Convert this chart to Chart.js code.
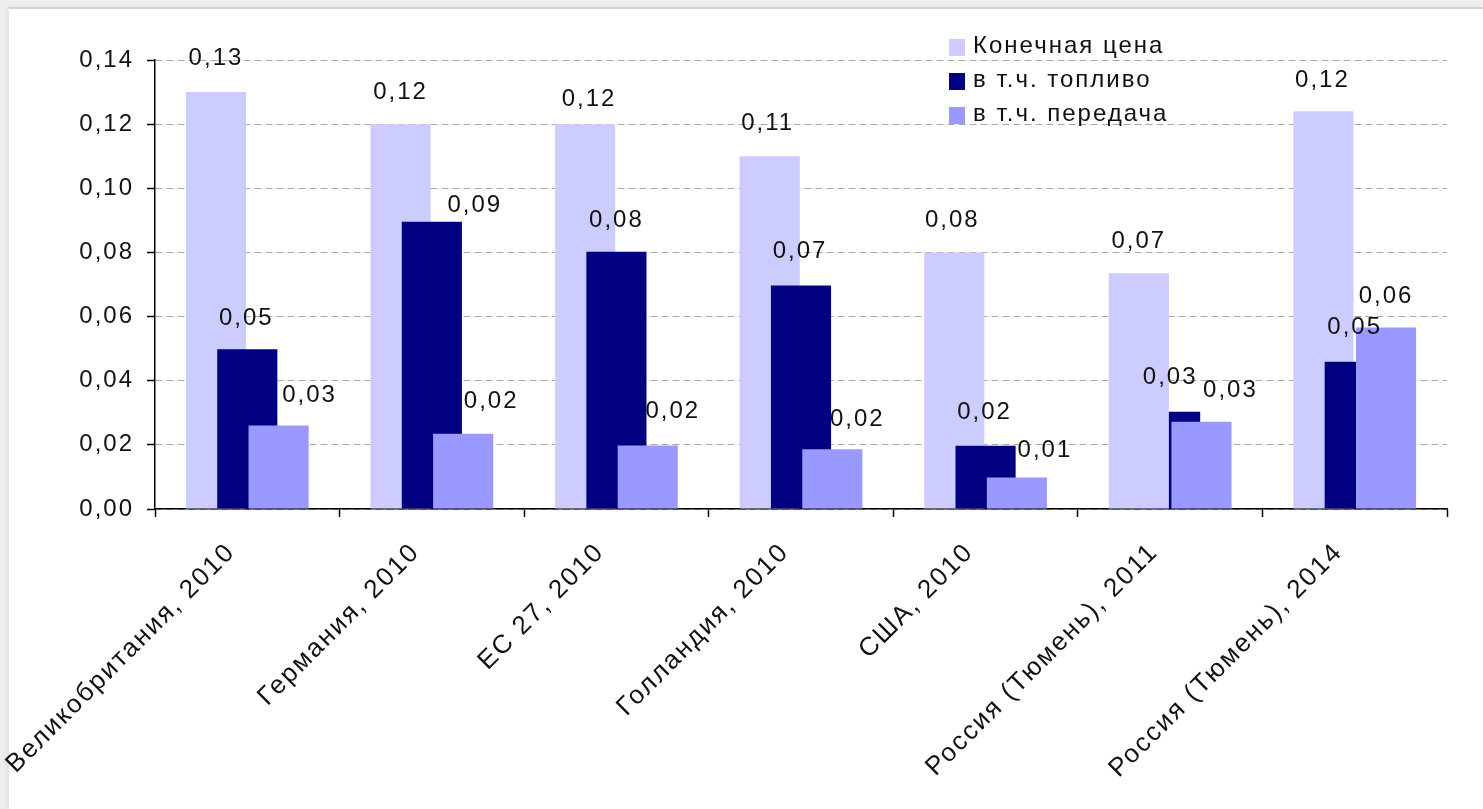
<!DOCTYPE html>
<html lang="ru">
<head>
<meta charset="utf-8">
<title>Конечная цена и её составляющие</title>
<script src="https://cdn.jsdelivr.net/npm/chart.js@4.4.1/dist/chart.umd.min.js"></script>
<style>
    html, body {
        margin: 0;
        padding: 0;
        background: #efefef;
    }
    body {
        width: 1483px;
        height: 809px;
        position: relative;
        overflow: hidden;
    }
    .sheet {
        position: absolute;
        left: 9px;
        top: 7px;
        right: 0;
        bottom: 0;
        background: #fff;
        border-top: 2px solid #d2d2d2;
        box-shadow: -3px 0 5px rgba(0, 0, 0, 0.06);
    }
    #priceChart {
        position: absolute;
        left: 0;
        top: 0;
    }
</style>
</head>
<body>
<div class="sheet"></div>
<canvas id="priceChart" width="1483" height="809"></canvas>

<script>
// Categories (x axis)
const categories = [
    'Великобритания, 2010',
    'Германия, 2010',
    'ЕС 27, 2010',
    'Голландия, 2010',
    'США, 2010',
    'Россия (Тюмень), 2011',
    'Россия (Тюмень), 2014'
];

// Series names
const seriesNames = ['Конечная цена', 'в т.ч. топливо', 'в т.ч. передача'];

// Values
const finalPrice = [0.130, 0.120, 0.120, 0.110, 0.080, 0.0735, 0.124];
const fuelPart = [0.0498, 0.0896, 0.0802, 0.0697, 0.0197, 0.0303, 0.0459];
const transmissionPart = [0.0260, 0.0235, 0.0198, 0.0186, 0.0098, 0.0272, 0.0566];

// Y axis ticks: 0,00 ... 0,14
const yMin = 0;
const yMax = 0.14;
const yStep = 0.02;

// Excel 2003 style palette
const SERIES_COLORS = ['#ccccff', '#000080', '#9999ff'];

const FONT = '"Liberation Sans", Arial, sans-serif';
const TEXT_COLOR = '#111';

// Data labels were hand-moved in the original, these are the nudges (px)
const LABEL_DX = [
    [0, 0, 4, -2, -2, 0, -1],
    [-1, 43, 0, -1, -1, 0, 0],
    [31, 28, 25, 25, 28, 29, 0]
];
const LABEL_DY = [
    [-2, 0, 7, -1, 0, 0, 1],
    [1, 15, 0, -2, -2, -3, -3],
    [1, -1, -2, 2, 4, 0, 1]
];
const LABEL_GAP = 25;

// In the original the price bar of this category sits over the fuel bar
const PRICE_ON_TOP = [false, false, false, false, false, true, false];

function formatRu(value) {
    return value.toFixed(2).replace('.', ',');
}

/**
 * Draws series in their own order (later series on top),
 * then value labels and the legend box.
 */
const excelLook = {
    id: 'excelLook',
    beforeUpdate(chart) {
        chart.ctx.letterSpacing = '2px';
    },
    beforeDraw(chart) {
        chart.ctx.letterSpacing = '2px';
    },
    beforeDatasetsDraw(chart) {
        const ctx = chart.ctx;
        const metas = chart.data.datasets.map((ds, i) => chart.getDatasetMeta(i));
        metas.forEach((meta, i) => {
            if (meta.hidden) return;
            meta.data.forEach((bar, j) => {
                if (i === 0 && PRICE_ON_TOP[j]) return;
                bar.draw(ctx);
            });
            if (i === 1) {
                metas[0].data.forEach((bar, j) => {
                    if (PRICE_ON_TOP[j]) bar.draw(ctx);
                });
            }
        });
        return false;
    },
    afterDraw(chart) {
        const ctx = chart.ctx;
        ctx.save();
        ctx.letterSpacing = '2px';
        ctx.fillStyle = TEXT_COLOR;

        // value labels
        ctx.font = '24px ' + FONT;
        ctx.textAlign = 'center';
        ctx.textBaseline = 'alphabetic';
        chart.data.datasets.forEach((ds, i) => {
            const meta = chart.getDatasetMeta(i);
            meta.data.forEach((bar, j) => {
                const x = bar.x + LABEL_DX[i][j];
                const y = bar.y - LABEL_GAP + LABEL_DY[i][j];
                ctx.fillText(formatRu(ds.data[j]), x, y);
            });
        });

        // legend
        const legendX = 949;
        const legendY = 53;
        const rowStep = 34;
        ctx.textAlign = 'left';
        chart.data.datasets.forEach((ds, i) => {
            const base = legendY + i * rowStep;
            ctx.fillStyle = ds.backgroundColor;
            ctx.fillRect(legendX, base - 14, 16, 17);
            ctx.fillStyle = TEXT_COLOR;
            ctx.fillText(ds.label, legendX + 24, base);
        });
        ctx.restore();
    }
};

const seriesValues = [finalPrice, fuelPart, transmissionPart];

const priceChart = new Chart(document.getElementById('priceChart'), {
    type: 'bar',
    data: {
        labels: categories,
        datasets: seriesNames.map((name, i) => ({
            label: name,
            data: seriesValues[i],
            backgroundColor: SERIES_COLORS[i],
            borderWidth: 0,
            categoryPercentage: 0.509,
            barPercentage: 1.92
        }))
    },
    options: {
        responsive: false,
        animation: false,
        layout: {
            padding: { left: 0, right: 36, top: 60, bottom: 0 }
        },
        plugins: {
            legend: { display: false },
            tooltip: { enabled: false }
        },
        scales: {
            x: {
                grid: {
                    drawOnChartArea: false,
                    drawTicks: true,
                    tickLength: 8,
                    tickColor: '#000',
                    tickWidth: 1.5,
                    offset: true
                },
                border: { color: '#000', width: 1.5 },
                ticks: {
                    color: TEXT_COLOR,
                    font: { family: FONT, size: 26 },
                    minRotation: 45,
                    maxRotation: 45,
                    autoSkip: false,
                    padding: 20,
                    labelOffset: -16
                },
                afterFit(scale) {
                    scale.height = 300;
                    scale.paddingLeft = 0;
                    scale.paddingRight = 0;
                }
            },
            y: {
                min: yMin,
                max: yMax,
                grid: {
                    color: '#a8a8a8',
                    lineWidth: 1,
                    tickLength: 8,
                    tickColor: '#000',
                    tickWidth: 1.5
                },
                border: { color: '#000', width: 1.5, dash: [7, 4] },
                ticks: {
                    stepSize: yStep,
                    padding: 13,
                    color: TEXT_COLOR,
                    font: { family: FONT, size: 24 },
                    callback: value => formatRu(value)
                },
                afterFit(scale) {
                    scale.width = 155;
                }
            }
        }
    },
    plugins: [excelLook]
});
</script>
</body>
</html>
